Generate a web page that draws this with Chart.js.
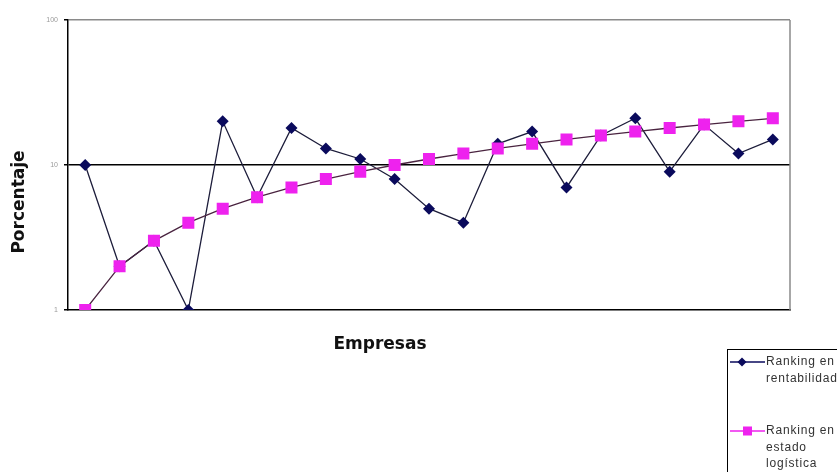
<!DOCTYPE html>
<html>
<head>
<meta charset="utf-8">
<script src="https://cdn.jsdelivr.net/npm/chart.js@4.4.1/dist/chart.umd.min.js"></script>
<style>
html,body{margin:0;padding:0;background:#fff;}
#wrap{position:relative;width:837px;height:472px;}
</style>
</head>
<body>
<div id="wrap"><canvas id="c" width="837" height="472"></canvas></div>
<script>
const empresas = ["1","2","3","4","5","6","7","8","9","10","11","12","13","14","15","16","17","18","19","20","21"];
const rankingRentabilidad = [10,2,3,1,20,6,18,13,11,8,5,4,14,17,7,16,21,9,19,12,15];
const rankingLogistica = [1,2,3,4,5,6,7,8,9,10,11,12,13,14,15,16,17,18,19,20,21];
const yTicks = [1,10,100];
const serieNames = [["Ranking en","rentabilidad"],["Ranking en","estado","logística"]];
const xTitle = "Empresas";
const yTitle = "Porcentaje";

const BLUE = "#0a0a5c";
const PINK = "#ee22ee";

const decor = {
  id: "decor",
  beforeDatasetsDraw(chart) {
    const ctx = chart.ctx, a = chart.chartArea;
    ctx.save();
    ctx.strokeStyle = "#8a8a8a";
    ctx.lineWidth = 1.5;
    ctx.beginPath();
    ctx.moveTo(a.right, a.top);
    ctx.lineTo(a.right, a.bottom);
    ctx.stroke();
    ctx.restore();
  },
  afterDraw(chart) {
    const ctx = chart.ctx;
    ctx.save();
    ctx.fillStyle = "#111";
    ctx.font = "bold 17px 'DejaVu Sans'";
    ctx.textAlign = "center";
    ctx.textBaseline = "middle";
    ctx.fillText(xTitle, 380, 345);
    ctx.translate(20, 202);
    ctx.rotate(-Math.PI / 2);
    ctx.fillText(yTitle, 0, 0);
    ctx.restore();

    // legend box
    ctx.save();
    ctx.strokeStyle = "#000";
    ctx.lineWidth = 1;
    ctx.strokeRect(727.5, 349.5, 140, 140);
    const entries = [
      {y: 362, color: BLUE, line: BLUE, style: "diamond", lines: serieNames[0]},
      {y: 431, color: PINK, line: PINK, style: "square", lines: serieNames[1]}
    ];
    ctx.font = "12px 'Liberation Sans'";
    try { ctx.letterSpacing = "0.8px"; } catch (e) {}
    ctx.textBaseline = "middle";
    ctx.textAlign = "left";
    entries.forEach(e => {
      ctx.strokeStyle = e.line;
      ctx.lineWidth = 1.5;
      ctx.beginPath();
      ctx.moveTo(730, e.y);
      ctx.lineTo(765, e.y);
      ctx.stroke();
      ctx.fillStyle = e.color;
      if (e.style === "diamond") {
        ctx.beginPath();
        ctx.moveTo(742, e.y - 4.5); ctx.lineTo(746.5, e.y); ctx.lineTo(742, e.y + 4.5); ctx.lineTo(737.5, e.y);
        ctx.closePath(); ctx.fill();
      } else {
        ctx.fillRect(743, e.y - 4.5, 9, 9);
      }
      ctx.fillStyle = "#333";
      e.lines.forEach((t, i) => ctx.fillText(t, 766, e.y + i * 16.5));
    });
    ctx.restore();
  }
};

new Chart(document.getElementById("c"), {
  type: "line",
  data: {
    labels: empresas,
    datasets: [
      {
        label: serieNames[0].join(" "),
        data: rankingRentabilidad,
        borderColor: "#1c1c3a",
        borderWidth: 1.3,
        pointStyle: "rectRot",
        pointRadius: 6,
        pointBackgroundColor: BLUE,
        pointBorderColor: BLUE,
        pointBorderWidth: 0,
        tension: 0,
        order: 1
      },
      {
        label: serieNames[1].join(" "),
        data: rankingLogistica,
        borderColor: "#4a2440",
        borderWidth: 1.3,
        pointStyle: "rect",
        pointRadius: 8.5,
        pointBackgroundColor: PINK,
        pointBorderColor: PINK,
        pointBorderWidth: 0,
        tension: 0,
        order: 0
      }
    ]
  },
  plugins: [decor],
  options: {
    responsive: false,
    animation: false,
    events: [],
    layout: {padding: {top: 20, right: 47, left: 0, bottom: 0}},
    plugins: {legend: {display: false}, tooltip: {enabled: false}},
    scales: {
      x: {
        type: "category",
        offset: true,
        afterFit: s => { s.height = 162; },
        ticks: {display: false},
        grid: {display: false},
        border: {color: "#000", width: 1.5}
      },
      y: {
        type: "logarithmic",
        min: 1,
        max: 100,
        afterFit: s => { s.width = 68; },
        afterBuildTicks: s => { s.ticks = yTicks.map(v => ({value: v})); },
        ticks: {
          color: "#9a9a9a",
          font: {size: 7, family: "'Liberation Sans'"},
          padding: 6,
          callback: v => String(v)
        },
        grid: {
          color: c => c.tick && c.tick.value === 10 ? "#000" : (c.tick && c.tick.value === 100 ? "#8a8a8a" : "rgba(0,0,0,0)"),
          lineWidth: 1.5,
          tickLength: 4,
          tickColor: "#000",
          drawTicks: true
        },
        border: {color: "#000", width: 1.5}
      }
    }
  }
});
</script>
</body>
</html>
